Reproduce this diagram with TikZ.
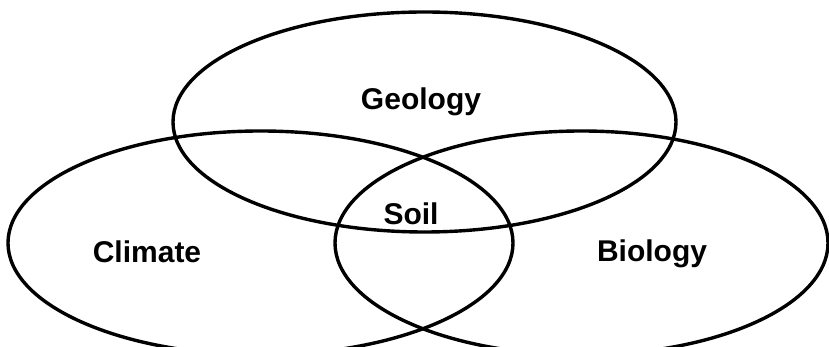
\documentclass[tikz,border=0pt]{standalone}
\usepackage{fontspec}
\setmainfont{Liberation Sans}
\usepackage{tikz}
\usetikzlibrary{positioning, shapes.geometric}

\begin{document}
\begin{tikzpicture}[
  x=0.5pt, y=0.5pt,
  every node/.style={font=\fontsize{15}{18}\selectfont\bfseries},
  setring/.style={
    ellipse, draw=black, line width=1.7pt,
    inner sep=0pt, minimum width=#1
  },
  setlabel/.style={
    anchor=base, text=black, inner sep=0pt
  },
]

% === Frame ===
\clip (0,0) rectangle (829,347);

% === Set Ellipses ===
\node[setring=251.5pt, minimum height=110pt] (geo) at (424.5,225) {};
\node[setring=252.5pt, minimum height=112pt] (cli) at (260.5,104) {};
\node[setring=246.5pt, minimum height=112pt] (bio) at (581.5,104) {};

% === Labels ===
\node[setlabel] (geolabel) at (421,237) {Geology};
\node[setlabel] (clilabel) at (147,84) {Climate};
\node[setlabel] (biolabel) at (652,85) {Biology};
\node[setlabel] (soillabel) at (411,122) {Soil};

\end{tikzpicture}
\end{document}
